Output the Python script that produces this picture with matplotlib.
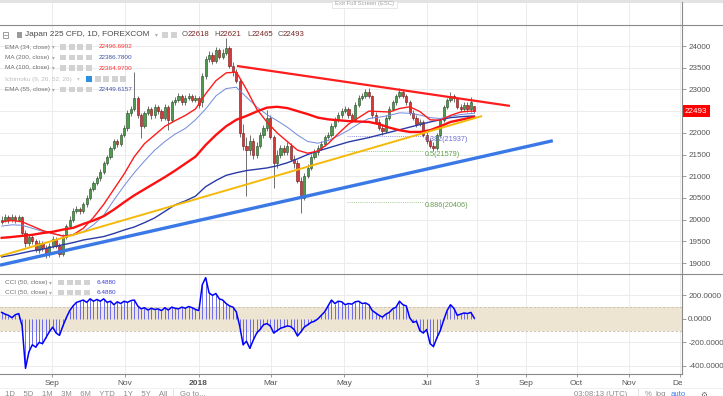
import matplotlib
matplotlib.use('Agg')
import matplotlib.pyplot as plt
from matplotlib.patches import Rectangle
from matplotlib.lines import Line2D
from matplotlib.transforms import Bbox, TransformedBbox, blended_transform_factory
import numpy as np

plt.rcParams['font.family'] = ['Liberation Sans', 'DejaVu Sans']

# ---------------- data (2-day candles) ----------------
opens = [19950, 20000, 20050, 19980, 20060, 20000, 20050, 19700, 19450, 19600,
         19500, 19300, 19450, 19350, 19200, 19400, 19550, 19400, 19200, 19600,
         19850, 20000, 20200, 20250, 20200, 20350, 20500, 20700, 20850, 20950,
         21100, 21300, 21450, 21650, 21800, 21750, 21950, 22100, 22450, 22550,
         22800, 22400, 22150, 22450, 22550, 22400, 22600, 22500, 22350, 22600,
         22300, 22700, 22750, 22850, 22700, 22800, 22850, 22750, 22800, 22700,
         23300, 23700, 23800, 23650, 23900, 23750, 23850, 23950, 23550, 23400,
         23200, 22000, 21700, 21600, 21800, 21500, 21700, 21950, 22100, 22350,
         21900, 21300, 21500, 21650, 21550, 21700, 21400, 21300, 20900, 20500,
         21000, 21200, 21450, 21550, 21650, 21750, 21900, 21950, 22150, 22300,
         22400, 22500, 22550, 22400, 22300, 22650, 22800, 22850, 22950, 22850,
         22400, 22250, 22100, 22050, 22350, 22550, 22700, 22850, 22950, 22850,
         22700, 22450, 22350, 22200, 22250, 21950, 21800, 21700, 21650, 21950,
         22300, 22600, 22750, 22850, 22800, 22600, 22550, 22650, 22550, 22618]
closes = [20000, 20050, 19980, 20060, 20000, 20050, 19700, 19450, 19600, 19500,
          19300, 19450, 19350, 19200, 19400, 19550, 19400, 19200, 19600, 19850,
          20000, 20200, 20250, 20200, 20350, 20500, 20700, 20850, 20950, 21100,
          21300, 21450, 21650, 21800, 21750, 21950, 22100, 22450, 22550, 22800,
          22400, 22150, 22450, 22550, 22400, 22600, 22500, 22350, 22600, 22300,
          22700, 22750, 22850, 22700, 22800, 22850, 22750, 22800, 22650, 23300,
          23700, 23800, 23650, 23900, 23750, 23850, 23950, 23550, 23400, 23200,
          22000, 21700, 21600, 21800, 21500, 21700, 21950, 22100, 22350, 21900,
          21300, 21500, 21650, 21550, 21700, 21400, 21300, 20900, 20500, 21000,
          21200, 21450, 21550, 21650, 21750, 21900, 21950, 22150, 22300, 22400,
          22500, 22550, 22400, 22300, 22650, 22800, 22850, 22950, 22850, 22400,
          22250, 22100, 22050, 22350, 22550, 22700, 22850, 22950, 22850, 22700,
          22450, 22350, 22200, 22250, 21950, 21800, 21700, 21650, 21950, 22300,
          22600, 22750, 22850, 22800, 22600, 22550, 22650, 22550, 22700, 22493]
highs = [20080, 20120, 20110, 20130, 20110, 20100, 20080, 19760, 19680, 19650,
         19560, 19520, 19500, 19420, 19460, 19620, 19600, 19450, 19660, 19900,
         20080, 20260, 20320, 20300, 20400, 20560, 20760, 20900, 21010, 21160,
         21360, 21500, 21700, 21850, 21860, 22000, 22180, 22520, 22620, 23400,
         22850, 22450, 22500, 22620, 22600, 22660, 22650, 22560, 22660, 22640,
         22750, 22820, 22920, 22900, 22860, 22920, 22900, 22870, 22850, 23380,
         23780, 23880, 23860, 23980, 23950, 23930, 24180, 24000, 23640, 23480,
         23250, 22200, 21900, 21950, 21880, 21780, 22020, 22180, 22530, 22400,
         21950, 21600, 21720, 21720, 21780, 21760, 21480, 21380, 20980, 21080,
         21280, 21510, 21620, 21720, 21820, 21960, 22030, 22220, 22370, 22470,
         22570, 22620, 22600, 22460, 22700, 22870, 22920, 23010, 23030, 22880,
         22470, 22320, 22180, 22400, 22610, 22760, 22900, 23030, 23000, 22900,
         22760, 22520, 22420, 22320, 22300, 22020, 21880, 21780, 22000, 22350,
         22650, 22800, 22940, 22900, 22830, 22660, 22700, 22700, 22830, 22621]
lows = [19900, 19950, 19920, 19940, 19930, 19960, 19650, 19380, 19400, 19430,
        19250, 19240, 19280, 19115, 19150, 19340, 19350, 19140, 19160, 19550,
        19800, 19950, 20150, 20120, 20150, 20300, 20460, 20650, 20800, 20900,
        21060, 21250, 21400, 21600, 21680, 21700, 21900, 22050, 22380, 22500,
        22350, 21880, 22100, 22400, 22320, 22350, 22440, 22280, 22300, 22060,
        22250, 22650, 22700, 22640, 22650, 22750, 22700, 22700, 22580, 22600,
        23250, 23620, 23580, 23600, 23700, 23700, 23800, 23500, 23300, 23150,
        21900, 21600, 20550, 21500, 21400, 21420, 21650, 21880, 22050, 21850,
        20730, 21200, 21420, 21480, 21480, 21350, 21200, 20850, 20150, 20450,
        20950, 21150, 21400, 21500, 21600, 21700, 21850, 21900, 22100, 22250,
        22350, 22450, 22350, 22250, 22260, 22600, 22760, 22800, 22800, 22350,
        22200, 22060, 21950, 22000, 22300, 22500, 22650, 22800, 22800, 22650,
        22400, 22300, 22140, 22150, 21900, 21750, 21640, 21580, 21600, 21900,
        22250, 22550, 22700, 22720, 22550, 22480, 22500, 22480, 22480, 22465]

cci = [55, 40, 30, 10, 35, 45, -60, -420, -280, -220,
       -240, -200, -210, -160, -110, -70, -120, -140, -60, 10,
       70, 110, 140, 150, 160, 140, 170, 150, 165, 150,
       170, 140, 150, 120, 145, 130, 150, 140, 155, 160,
       110, 85, 95, 75, 90, 80, 85, 70, 95, 75,
       100, 90, 85, 100, 90, 105, 95, 80, 70, 290,
       350, 220, 200, 215, 170, 160, 130, 110, 100, 60,
       -60, -220, -190, -250, -180, -120, -90, -50, -40, -60,
       -120, -100, -80, -70, -60, -65, -90, -145, -110, -70,
       -50, -30, -20, 0, 30, 60, 110, 160, 130, 150,
       145, 120, 130, 125, 145, 150, 130, 135, 120, 70,
       50, 30, 15, 40, 55, 85, 100, 150, 120, 110,
       10, -30, -20, -100, -120, -90, -210, -235, -160, -100,
       -10, 70, 120, 90, 30, 40, 50, 45, 55, 6.488]

# moving averages sampled every 3 bars (plus the last bar)
ma_idx = list(range(0, 139, 3)) + [139]
ema34 = [19950, 19980, 19950, 19850, 19750, 19680, 19620, 19650, 19800, 20050,
         20350, 20700, 21050, 21450, 21750, 21950, 22150, 22280, 22400, 22550,
         22900, 23200, 23380, 23400, 23000, 22550, 22250, 22000, 21800, 21600,
         21530, 21580, 21750, 21980, 22200, 22350, 22500, 22490, 22480, 22560,
         22600, 22490, 22300, 22290, 22400, 22480, 22500, 22497]
ema55 = [19850, 19880, 19870, 19800, 19730, 19680, 19630, 19640, 19720, 19880,
         20100, 20450, 20780, 21080, 21350, 21600, 21800, 21970, 22100, 22300,
         22550, 22850, 23020, 23050, 22820, 22600, 22420, 22280, 22130, 21950,
         21800, 21760, 21820, 21930, 22060, 22210, 22330, 22360, 22400, 22460,
         22450, 22410, 22350, 22330, 22380, 22420, 22445, 22450]
ma100 = [19580, 19600, 19625, 19650, 19690, 19720, 19770, 19810, 19900, 19980,
         20080, 20230, 20400, 20560, 20700, 20840, 20980, 21130, 21290, 21450,
         21720, 21950, 22150, 22300, 22390, 22490, 22580, 22600, 22570, 22500,
         22430, 22350, 22310, 22290, 22270, 22260, 22250, 22200, 22120, 22060,
         22020, 22020, 22060, 22150, 22250, 22300, 22350, 22365]
ma200 = [19140, 19180, 19230, 19280, 19320, 19370, 19420, 19470, 19530, 19570,
         19610, 19680, 19760, 19830, 19930, 20040, 20190, 20340, 20430, 20540,
         20760, 20900, 21020, 21080, 21130, 21160, 21190, 21240, 21310, 21400,
         21500, 21580, 21650, 21720, 21790, 21840, 21890, 21950, 22010, 22070,
         22130, 22190, 22250, 22300, 22350, 22370, 22385, 22387]

# drawn trend lines (bar index, price)
red_tl_x, red_tl_y = [69.2, 149.5], [23540, 22620]
yel_tl_x, yel_tl_y = [-0.5, 141.3], [19160, 22387]
blu_tl_x, blu_tl_y = [-0.5, 162.1], [18950, 21818]

fib_levels = [21937, 21579, 20406]
fib_labels = ['0.382(21937)', '0.5(21579)', '0.886(20406)']
fib_x = [101.5, 124.0]

x_tick_pos = [14.8, 36.3, 57.9, 79.2, 100.8, 125.2, 139.8, 154.2, 169.1, 184.6, 199.5]
x_tick_lab = ['Sep', 'Nov', '2018', 'Mar', 'May', 'Jul', '3', 'Sep', 'Oct', 'Nov', 'Dec']
price_ticks = [19000, 19500, 20000, 20500, 21000, 21500, 22000, 22500, 23000, 23500, 24000]
cci_ticks = [200, 0, -200, -400]
last_price = 22493
ohlc_letters = ['O', 'H', 'L', 'C']
ohlc_values = ['22618', '22621', '22465', '22493']

# ---------------- figure ----------------
W, H = 723, 396
fig = plt.figure(figsize=(W / 100, H / 100), dpi=100)
fig.patch.set_facecolor('white')
XLIM = (-0.5, 200.1)
GRID = '#ececec'
AXC = '#8a8a8a'

ax_top = fig.add_axes([0, 1 - 25 / H, 682 / W, 22 / H])
ax = fig.add_axes([0, 1 - 274 / H, 682 / W, 249 / H])
ax2 = fig.add_axes([0, 1 - 374 / H, 682 / W, 100 / H])

for a in (ax_top, ax, ax2):
    a.set_xlim(*XLIM)
    a.set_facecolor('white')
    for s in a.spines.values():
        s.set_visible(False)
    a.set_xticks(x_tick_pos)
    a.set_axisbelow(True)
    a.grid(True, axis='x', color=GRID, lw=0.7)

ax_top.set_yticks([])
ax_top.tick_params(axis='x', length=0, labelbottom=False)

# price panel
ax.set_ylim(18747, 24484)
ax.yaxis.tick_right()
ax.set_yticks(price_ticks, labels=['' if p == 22500 else str(p) for p in price_ticks])
ax.tick_params(axis='y', length=3, width=0.6, color=AXC, labelsize=5.8,
               labelcolor='#555555', pad=1.5)
ax.tick_params(axis='x', length=0, labelbottom=False)
ax.grid(True, axis='y', color=GRID, lw=0.7)

idx = np.arange(len(closes))
o = np.array(opens, float); c = np.array(closes, float)
h = np.array(highs, float); l = np.array(lows, float)
up = c >= o
ax.vlines(idx, l, h, color='#5a5a5a', lw=0.6, zorder=2)
body_fc = np.where(up, '#4f9a4f', '#d43a3a')
body_ec = np.where(up, '#1f4a1f', '#6a1414')
ax.bar(idx, np.maximum(np.abs(c - o), 10), bottom=np.minimum(o, c), width=0.62,
       color=body_fc, edgecolor=body_ec, linewidth=0.4, zorder=2.5)

ax.plot(ma_idx, ma200, color='#2a3aa8', lw=1.0, zorder=3)
ax.plot(ma_idx, ema55, color='#7088dc', lw=0.7, zorder=3)
ax.plot(ma_idx, ma100, color='#ff1010', lw=1.7, zorder=3.2)
ax.plot(ma_idx, ema34, color='#ff1a1a', lw=1.0, zorder=3.1)

ax.plot(blu_tl_x, blu_tl_y, color='#3a78e6', lw=2.4, zorder=4, solid_capstyle='butt')
ax.plot(yel_tl_x, yel_tl_y, color='#f5b90a', lw=1.4, zorder=4, solid_capstyle='butt')
ax.plot(red_tl_x, red_tl_y, color='#ff1c1c', lw=1.6, zorder=4, solid_capstyle='butt')

fib_line_c = ['#8f8fe6', '#9cc98c', '#a6c996']
fib_text_c = ['#6d6dd8', '#5f9e47', '#6a9a52']
for lvl, lab, lc, tc in zip(fib_levels, fib_labels, fib_line_c, fib_text_c):
    ax.plot(fib_x, [lvl, lvl], color=lc, lw=0.7, ls=(0, (1, 1.2)), zorder=1.5)
    ax.text(124.5, lvl, lab, color=tc, fontsize=5.2, va='top', ha='left', zorder=5)

bt = blended_transform_factory(ax.transAxes, ax.transData)
ax.text(1.004, last_price, str(last_price), transform=bt, color='white', fontsize=5.8,
        va='center', ha='left', clip_on=False, zorder=6,
        bbox=dict(boxstyle='square,pad=0.3', fc='#ff0000', ec='none'))

# CCI panel
ax2.set_ylim(-468, 381)
ax2.axhspan(-100, 100, color='#ede4d2', zorder=0.6, lw=0)
for v in (100, -100):
    ax2.axhline(v, color='#c7bda9', lw=0.6, ls=(0, (3, 2)), zorder=0.7)
ax2.yaxis.tick_right()
ax2.set_yticks(cci_ticks, labels=['%.4f' % v for v in cci_ticks])
ax2.tick_params(axis='y', length=3, width=0.6, color=AXC, labelsize=5.8,
                labelcolor='#555555', pad=1.5)
ax2.grid(True, axis='y', color=GRID, lw=0.7)
ax2.vlines(idx, 0, cci, color='#6a6af0', lw=0.7, zorder=2)
ax2.plot(idx, cci, color='#0000ff', lw=1.1, zorder=3)
ax2.set_xticks(x_tick_pos, labels=x_tick_lab)
ax2.tick_params(axis='x', length=2.5, width=0.6, color=AXC, labelsize=6,
                labelcolor='#555555', pad=2)
xl = ax2.get_xticklabels()
xl[2].set_fontweight('bold')
clipbox = TransformedBbox(Bbox([[0, 0], [682 / W, 1]]), fig.transFigure)
for t in xl:
    t.set_clip_box(clipbox)
    t.set_clip_on(True)

# frame lines (figure coordinates)
def hline(y, x0, x1, col=AXC, lw=0.8):
    fig.add_artist(Line2D([x0 / W, x1 / W], [1 - y / H, 1 - y / H], color=col, lw=lw))

def vline(x, y0, y1, col=AXC, lw=0.8):
    fig.add_artist(Line2D([x / W, x / W], [1 - y0 / H, 1 - y1 / H], color=col, lw=lw))

fig.add_artist(Rectangle((0, 1 - 2.5 / H), 1, 2.5 / H, transform=fig.transFigure,
                         fc='#e3e3e3', ec='none'))
hline(25, 0, W)
hline(274, 0, W)
hline(374, 0, 682)
vline(682, 2, 374)
hline(388, 0, W, col='#eeeeee', lw=0.6)

# tooltip
fig.add_artist(Rectangle((332 / W, 1 - 7.5 / H), 65 / W, 7 / H, transform=fig.transFigure,
                         fc='white', ec='#dddddd', lw=0.5))
fig.text(364.5 / W, 1 - 4 / H, 'Exit Full Screen (ESC)', fontsize=4.2, color='#a0a0a0',
         ha='center', va='center')

def T(x, y, s, size=4.6, col='#6f6f6f', **kw):
    fig.text(x / W, 1 - y / H, s, fontsize=size, color=col, va='center', ha='left', **kw)

def icon(x, y, col='#d2d2d2', w=6, hh=5.5):
    fig.add_artist(Rectangle((x / W, 1 - (y + hh / 2) / H), w / W, hh / H,
                             transform=fig.transFigure, fc=col, ec='none'))

# main legend row
fig.add_artist(Rectangle((3 / W, 1 - 37.5 / H), 5 / W, 5 / H, transform=fig.transFigure,
                         fc='white', ec='#777777', lw=0.5))
hline(35, 4.3, 6.7, col='#777777', lw=0.5)
icon(17, 35, col='#9a9a9a', w=5, hh=5)
T(25, 35, 'Japan 225 CFD, 1D, FOREXCOM', size=5.95, col='#4a4a4a')
T(155, 35, '▾', size=4.2, col='#aaaaaa', family='DejaVu Sans')
icon(162, 35)
icon(170.5, 35)
letter_x = [182, 214.5, 247.5, 277.5]
value_x = [188, 220, 252, 283]
for lx, letter, vx, val in zip(letter_x, ohlc_letters, value_x, ohlc_values):
    T(lx, 35, letter, size=5.6, col='#555555')
    T(vx, 35, val, size=5.6, col='#7a2424')

rows = [('EMA (34, close)', '22496.6902', '#ff3030', 47),
        ('MA (200, close)', '22386.7800', '#3d52ad', 57.5),
        ('MA (100, close)', '22364.9700', '#ff3030', 68),
        ('EMA (55, close)', '22449.6157', '#3d52ad', 89.5)]
for name, val, vc, y in rows:
    T(5, y, name)
    T(52, y, '▾', size=4, col='#aaaaaa', family='DejaVu Sans')
    for ix in (60, 68.5, 77, 85.5):
        icon(ix, y)
    T(99, y, val, col=vc)
T(5, 79, 'Ichimoku (9, 26, 52, 26)', col='#bdbdbd')
T(77, 79, '▾', size=4, col='#cccccc', family='DejaVu Sans')
icon(86, 79, col='#2e8fe0')
for ix in (94.5, 103, 111.5, 120):
    icon(ix, 79)

for y in (282.3, 292.7):
    T(5, y, 'CCI (50, close)')
    T(49, y, '▾', size=4, col='#aaaaaa', family='DejaVu Sans')
    for ix in (58, 66.5, 75, 83.5):
        icon(ix, y)
    T(97, y, '6.4880', col='#3b3bd1')

# bottom toolbar (partly cut off, as in the screenshot)
def B(x, s, col='#8c8c8c', **kw):
    fig.text(x / W, 1 - 391 / H, s, fontsize=5.6, color=col, va='top', ha='left', **kw)

B(5, '1D    5D    1M    3M    6M    YTD    1Y    5Y    All')
vline(173, 389, 396, col='#dddddd', lw=0.6)
B(180, 'Go to...')
B(574, '03:08:13 (UTC)')
vline(638, 389, 396, col='#dddddd', lw=0.6)
B(645, '%')
B(656, 'log')
B(671, 'auto', col='#3a7be0')
B(700, '⚙', family='DejaVu Sans', col='#666666')

fig.savefig('out.png', dpi=100, facecolor='white')
